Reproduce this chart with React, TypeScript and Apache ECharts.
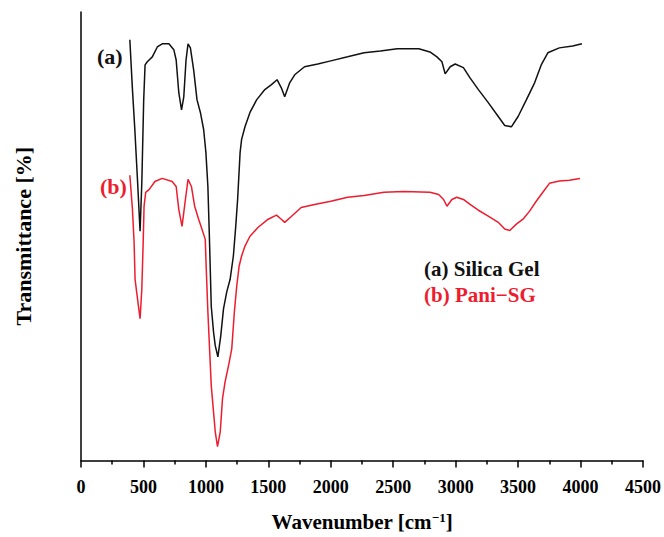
import React, { useEffect, useRef } from "react";
import * as echarts from "echarts";

const xTicks = [0, 500, 1000, 1500, 2000, 2500, 3000, 3500, 4000, 4500];

const silicaGel: [number, number][] = [
  [391, 93.8], [412, 82.7], [431, 73.8], [452, 62.7], [473, 51.1], [487, 62.0],
  [502, 80.4], [513, 88.2], [531, 88.9], [571, 90.0], [611, 92.2], [650, 92.9],
  [704, 92.9], [743, 91.6], [762, 89.3], [783, 82.0], [805, 78.2], [823, 81.1],
  [841, 89.3], [857, 92.9], [876, 92.0], [902, 87.1], [929, 80.4], [956, 77.6],
  [982, 73.8], [1000, 68.7], [1016, 61.1], [1027, 50.9], [1043, 34.4], [1061, 28.7],
  [1075, 25.6], [1096, 23.1], [1119, 27.8], [1141, 33.8], [1167, 37.6], [1194, 40.4],
  [1220, 45.6], [1239, 52.2], [1254, 58.2], [1274, 68.7], [1286, 71.6], [1313, 74.4],
  [1353, 77.6], [1406, 80.4], [1472, 82.7], [1525, 83.8], [1570, 84.9], [1604, 83.1],
  [1631, 81.1], [1671, 84.2], [1711, 86.0], [1790, 87.8], [1896, 88.4], [2000, 89.1],
  [2135, 90.0], [2267, 90.9], [2397, 91.3], [2532, 91.8], [2705, 91.8], [2794, 91.1],
  [2850, 90.0], [2890, 88.9], [2916, 86.2], [2956, 87.8], [2996, 88.4], [3062, 87.6],
  [3115, 85.3], [3182, 82.7], [3261, 79.8], [3341, 76.7], [3393, 74.7], [3446, 74.4],
  [3500, 76.7], [3566, 80.4], [3632, 84.2], [3685, 88.2], [3738, 90.9], [3830, 92.0],
  [3937, 92.4], [4011, 92.9],
];

const paniSG: [number, number][] = [
  [391, 63.6], [412, 56.0], [425, 48.7], [433, 40.4], [460, 34.4], [473, 31.6],
  [487, 38.2], [497, 47.8], [505, 56.7], [518, 59.8], [545, 60.4], [592, 62.2],
  [650, 62.9], [730, 62.2], [762, 61.1], [783, 56.0], [809, 52.2], [836, 58.2],
  [857, 62.7], [884, 61.1], [910, 56.7], [942, 53.8], [968, 51.6], [995, 49.3],
  [1003, 42.7], [1016, 33.1], [1043, 16.7], [1061, 10.9], [1075, 6.4], [1093, 3.1],
  [1115, 6.4], [1133, 13.8], [1154, 17.6], [1181, 21.1], [1207, 24.9], [1228, 33.1],
  [1247, 38.9], [1266, 43.3], [1286, 45.6], [1313, 47.8], [1353, 50.0], [1419, 52.0],
  [1499, 53.8], [1565, 54.7], [1604, 53.8], [1631, 53.1], [1684, 54.4], [1763, 56.4],
  [1870, 57.1], [2000, 57.8], [2135, 58.7], [2267, 59.1], [2426, 59.8], [2585, 60.0],
  [2794, 59.8], [2864, 59.3], [2903, 58.2], [2930, 56.7], [2970, 58.2], [3009, 58.7],
  [3062, 58.2], [3115, 57.1], [3182, 55.8], [3261, 54.5], [3341, 53.1], [3393, 51.6],
  [3433, 51.3], [3486, 52.7], [3539, 53.8], [3592, 55.6], [3645, 57.8], [3698, 59.8],
  [3751, 61.8], [3830, 62.3], [3910, 62.5], [3995, 62.9],
];

const seriesNames = ["(a) Silica Gel", "(b) Pani\u2212SG"];
const curveLabels = ["(a)", "(b)"];

const BLACK = "#111111";
const RED = "#EE1C2E";
const FONT = "'Liberation Serif', 'Times New Roman', serif";

export default function App() {
  const ref = useRef<HTMLDivElement>(null);
  useEffect(() => {
    if (!ref.current) return;
    const chart = echarts.init(ref.current, undefined, { renderer: "svg" });
    chart.setOption({
      animation: false,
      backgroundColor: "#ffffff",
      grid: { left: 81, right: 16.5, top: 12, bottom: 75, containLabel: false },
      xAxis: {
        type: "value",
        min: xTicks[0],
        max: xTicks[xTicks.length - 1],
        interval: 500,
        name: "Wavenumber [cm{sup|\u22121}]",
        nameLocation: "middle",
        nameGap: 50,
        nameTextStyle: {
          fontFamily: FONT,
          fontWeight: "bold",
          fontSize: 21,
          color: "#000",
          rich: {
            sup: {
              fontFamily: FONT,
              fontWeight: "bold",
              fontSize: 13,
              color: "#000",
              verticalAlign: "top",
              padding: [0, 0, 9, 0],
            },
          },
        },
        axisLine: { show: true, lineStyle: { color: "#000", width: 1.5 } },
        axisTick: { show: true, length: 7, lineStyle: { color: "#000", width: 1.5 } },
        minorTick: { show: true, splitNumber: 2, length: 4, lineStyle: { color: "#000", width: 1.5 } },
        axisLabel: {
          margin: 17,
          fontFamily: FONT,
          fontWeight: "bold",
          fontSize: 18,
          color: "#000",
          formatter: (v: number) => String(v),
        },
        splitLine: { show: false },
      },
      yAxis: {
        type: "value",
        min: 0,
        max: 100,
        name: "Transmittance [%]",
        nameLocation: "middle",
        nameGap: 47,
        nameTextStyle: { fontFamily: FONT, fontWeight: "bold", fontSize: 22, color: "#000" },
        axisLine: { show: true, lineStyle: { color: "#000", width: 1.5 } },
        axisTick: { show: false },
        axisLabel: { show: false },
        splitLine: { show: false },
      },
      series: [
        {
          name: seriesNames[0],
          type: "line",
          data: silicaGel,
          showSymbol: false,
          lineStyle: { color: BLACK, width: 1.5 },
          itemStyle: { color: BLACK },
        },
        {
          name: seriesNames[1],
          type: "line",
          data: paniSG,
          showSymbol: false,
          lineStyle: { color: RED, width: 1.5 },
          itemStyle: { color: RED },
        },
      ],
      graphic: [
        {
          type: "text",
          left: 97,
          top: 45,
          style: { text: curveLabels[0], fill: BLACK, font: `bold 22px ${FONT}` },
        },
        {
          type: "text",
          left: 100,
          top: 175,
          style: { text: curveLabels[1], fill: RED, font: `bold 22px ${FONT}` },
        },
        {
          type: "text",
          left: 424,
          top: 258,
          style: { text: seriesNames[0], fill: BLACK, font: `bold 21px ${FONT}` },
        },
        {
          type: "text",
          left: 424,
          top: 284,
          style: { text: seriesNames[1], fill: RED, font: `bold 21px ${FONT}` },
        },
      ],
    });
    return () => chart.dispose();
  }, []);
  return <div ref={ref} style={{ width: 664, height: 537, position: "absolute", left: 0, top: 0 }} />;
}
